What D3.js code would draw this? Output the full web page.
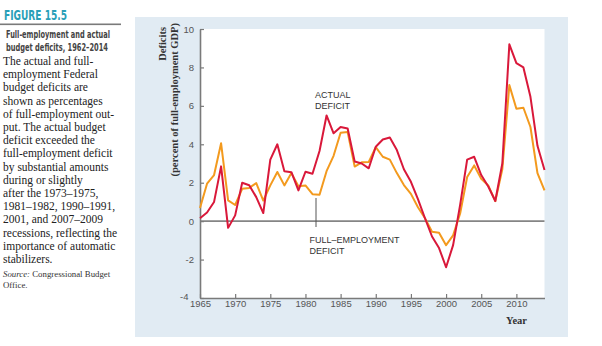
<!DOCTYPE html>
<html><head><meta charset="utf-8">
<script src="https://cdn.jsdelivr.net/npm/d3@7/dist/d3.min.js"></script>
<style>body{margin:0;background:#fff}svg{display:block}</style>
</head><body>
<script>
const years = d3.range(1965, 2015);
const actualDeficit = [0.15,0.45,1.0,2.85,-0.35,0.3,2.0,1.87,1.25,0.42,
  3.2,4.0,2.6,2.55,1.6,2.57,2.47,3.65,5.5,4.57,
  4.9,4.82,3.1,3.0,2.75,3.87,4.25,4.35,3.7,2.7,
  2.05,1.15,0.15,-0.8,-1.4,-2.4,-1.25,0.85,3.2,3.35,
  2.4,1.8,1.05,3.0,9.2,8.22,8.0,6.47,3.92,2.66];
const fullEmploymentDeficit = [0.68,1.95,2.4,4.05,1.08,0.84,1.68,1.73,1.98,1.07,
  1.86,2.56,1.86,2.5,1.82,1.86,1.4,1.37,2.6,3.4,
  4.6,4.64,2.84,3.06,3.08,3.85,3.35,3.2,2.5,1.88,
  1.42,0.72,0.15,-0.55,-0.6,-1.25,-0.74,0.4,2.3,2.9,
  2.2,1.86,1.04,2.7,7.08,5.85,5.9,4.9,2.5,1.6];
const yTicks = [-4,-2,0,2,4,6,8,10];
const xTicks = [1965,1970,1975,1980,1985,1990,1995,2000,2005,2010];
const sideTitle = ["Full-employment and actual", "budget deficits, 1962\u20132014"];
const sideBody = ["The actual and full-","employment Federal","budget deficits are","shown as percentages",
  "of full-employment out-","put. The actual budget","deficit exceeded the","full-employment deficit",
  "by substantial amounts","during or slightly","after the 1973\u20131975,","1981\u20131982, 1990\u20131991,",
  "2001, and 2007\u20132009","recessions, reflecting the","importance of automatic","stabilizers."];

const W = 602, H = 346;
const svg = d3.select("body").append("svg").attr("width", W).attr("height", H);

// side text
svg.append("text").attr("x", 4).attr("y", 19.5).text("FIGURE 15.5")
  .attr("font-family", "'Liberation Sans Narrow','DejaVu Sans Condensed',sans-serif")
  .attr("font-weight", "bold").attr("font-size", 13.5).attr("fill", "#2a9fb8")
  .attr("textLength", 63).attr("lengthAdjust", "spacingAndGlyphs");
svg.append("rect").attr("x", 0).attr("y", 23.5).attr("width", 121).attr("height", 1.6).attr("fill", "#7a7a7a");
const titleW = [104, 102];
sideTitle.forEach((t, i) => {
  svg.append("text").attr("x", 6).attr("y", 38 + i * 13).text(t)
    .attr("font-family", "'Liberation Sans Narrow','DejaVu Sans Condensed',sans-serif")
    .attr("font-weight", "bold").attr("font-size", 10.5).attr("fill", "#444")
    .attr("textLength", titleW[i]).attr("lengthAdjust", "spacingAndGlyphs");
});
sideBody.forEach((t, i) => {
  svg.append("text").attr("x", 3).attr("y", 65 + i * 13.2).text(t)
    .attr("font-family", "'Liberation Serif','DejaVu Serif',serif")
    .attr("font-size", 11.5).attr("fill", "#222");
});
const src = svg.append("text").attr("x", 3).attr("y", 277)
  .attr("font-family", "'Liberation Serif',serif").attr("font-size", 8.8).attr("fill", "#333");
src.append("tspan").attr("font-style", "italic").text("Source: ");
src.append("tspan").text("Congressional Budget");
svg.append("text").attr("x", 3).attr("y", 288).text("Office.")
  .attr("font-family", "'Liberation Serif',serif").attr("font-size", 8.8).attr("fill", "#333");

// panel
svg.append("rect").attr("x", 135).attr("y", 17).attr("width", 433).attr("height", 320).attr("fill", "#e1ebf3");
const x = d3.scaleLinear().domain([1965, 2014]).range([200, 544.5]);
const y = d3.scaleLinear().domain([-4, 10]).range([298, 29]);
svg.append("rect").attr("x", x(1965)).attr("y", y(10)).attr("width", x(2014) - x(1965))
  .attr("height", y(-4) - y(10)).attr("fill", "#fff");

// zero line
svg.append("line").attr("x1", x(1965)).attr("x2", x(2014)).attr("y1", y(0)).attr("y2", y(0))
  .attr("stroke", "#858585").attr("stroke-width", 1.6);

// axes
const fmt = d => d < 0 ? "-" + Math.abs(d) : String(d);
const yAxis = svg.append("g").attr("transform", `translate(${x(1965)},0)`)
  .call(d3.axisLeft(y).tickValues(yTicks).tickFormat(fmt).tickSizeInner(-4).tickSizeOuter(0).tickPadding(6));
const xAxis = svg.append("g").attr("transform", `translate(0,${y(-4)})`)
  .call(d3.axisBottom(x).tickValues(xTicks).tickFormat(d3.format("d")).tickSizeInner(-4).tickSizeOuter(0).tickPadding(2));
[yAxis, xAxis].forEach(g => {
  g.select(".domain").attr("stroke", "#7a7a7a").attr("stroke-width", 1.6);
  g.selectAll(".tick line").attr("stroke", "#7a7a7a").attr("stroke-width", 1.2);
  g.selectAll(".tick text").attr("fill", "#555").attr("font-size", 9.5)
    .attr("font-family", "'Liberation Sans',Arial,sans-serif");
});
yAxis.selectAll(".tick text").filter(d => d === -4).attr("x", -11.5).attr("dy", "0.15em");

// lines
const line = vals => d3.line().x((d, i) => x(years[i])).y(d => y(d))(vals);
svg.append("path").attr("d", line(fullEmploymentDeficit)).attr("fill", "none")
  .attr("stroke", "#f39a1e").attr("stroke-width", 2).attr("stroke-linejoin", "round");
svg.append("path").attr("d", line(actualDeficit)).attr("fill", "none")
  .attr("stroke", "#d9183a").attr("stroke-width", 2).attr("stroke-linejoin", "round");

// annotations
const ann = (t, xx, yy) => svg.append("text").attr("x", xx).attr("y", yy).text(t)
  .attr("font-family", "'Liberation Sans',Arial,sans-serif").attr("font-size", 9).attr("fill", "#333");
ann("ACTUAL", 315, 97.5);
ann("DEFICIT", 315, 108.5);
ann("FULL\u2013EMPLOYMENT", 309.5, 243);
ann("DEFICIT", 309.5, 254);
svg.append("line").attr("x1", x(1981.5)).attr("x2", x(1981.5)).attr("y1", 198).attr("y2", 227)
  .attr("stroke", "#555").attr("stroke-width", 1);

// axis titles
const serifB = "'Liberation Serif','DejaVu Serif',serif";
svg.append("text").attr("transform", "translate(166,27) rotate(-90)").attr("text-anchor", "end")
  .attr("font-family", serifB).attr("font-weight", "bold").attr("font-size", 10.5).attr("fill", "#333").text("Deficits");
svg.append("text").attr("transform", "translate(178,23) rotate(-90)").attr("text-anchor", "end")
  .attr("font-family", serifB).attr("font-weight", "bold").attr("font-size", 10.5).attr("fill", "#333")
  .text("(percent of full-employment GDP)");
svg.append("text").attr("x", 516.5).attr("y", 324).attr("text-anchor", "middle")
  .attr("font-family", serifB).attr("font-weight", "bold").attr("font-size", 10.5).attr("fill", "#333").text("Year");
</script>
</body></html>
